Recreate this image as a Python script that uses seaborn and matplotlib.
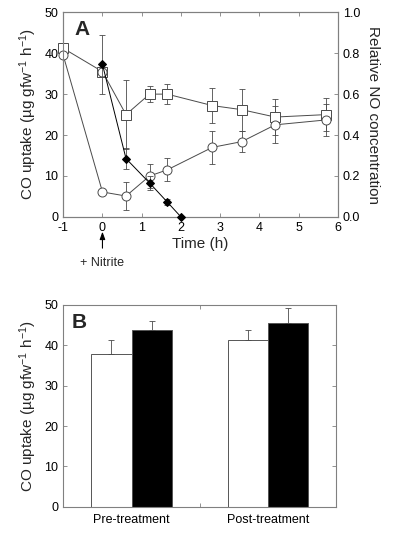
import numpy as np
import pandas as pd
import matplotlib
matplotlib.use("Agg")
import matplotlib.pyplot as plt
import seaborn as sns

sns.set_style("ticks")
plt.rcParams['font.family'] = ['Liberation Sans', 'DejaVu Sans']
plt.rcParams['mathtext.default'] = 'regular'
plt.rcParams['axes.unicode_minus'] = False

# =========================
# Panel A data
# =========================
time_sq = [-1, 0, 0.6, 1.2, 1.65, 2.8, 3.55, 4.4, 5.7]
co_sq = [41.2, 35.5, 25.0, 30.0, 30.0, 27.2, 26.2, 24.4, 25.0]
err_sq = [0, 0, 8.5, 2.0, 2.5, 4.2, 5.1, 4.3, 4.0]

time_ci = [-1, 0, 0.6, 1.2, 1.65, 2.8, 3.55, 4.4, 5.7]
co_ci = [39.5, 6.1, 5.1, 10.0, 11.5, 17.0, 18.4, 22.5, 23.7]
err_ci = [0, 0, 3.4, 3.0, 2.8, 4.0, 2.6, 4.5, 4.0]

# open circle sitting on the square at nitrite addition
time_ci_extra = [0]
co_ci_extra = [35.3]

time_no = [0, 0.6, 1.2, 1.65, 2.0]
no_rel = [0.745, 0.285, 0.166, 0.073, 0.0]
err_no = [0.145, 0.05, 0.035, 0.015, 0.0]

# =========================
# Panel B data
# =========================
phases = ['Pre-treatment', 'Post-treatment']
co_open = [37.8, 41.3]
err_open = [3.4, 2.4]
co_filled = [43.8, 45.6]
err_filled = [2.3, 3.6]

line_col = '#4a4a4a'
spine_col = '#808080'

fig = plt.figure(figsize=(4, 5.33), dpi=100)
axA = fig.add_axes([0.158, 0.593, 0.687, 0.384])
axB = fig.add_axes([0.158, 0.049, 0.683, 0.379])


def style_axes(ax):
    for s in ax.spines.values():
        s.set_color(spine_col)
        s.set_linewidth(0.8)
    ax.tick_params(direction='in', length=3, width=0.6, color=spine_col,
                   labelsize=9, labelcolor='black')


def unclip(ax):
    for art in ax.lines + ax.collections:
        art.set_clip_on(False)


# ---- Panel A ----
sns.lineplot(x=time_sq, y=co_sq, ax=axA, color=line_col, lw=0.7,
             marker='s', markersize=6.5, markerfacecolor='white',
             markeredgecolor=line_col, markeredgewidth=0.7, zorder=3)
axA.errorbar(time_sq, co_sq, yerr=err_sq, fmt='none', ecolor=line_col,
             elinewidth=0.6, capsize=2.5, capthick=0.6, zorder=2)

sns.lineplot(x=time_ci, y=co_ci, ax=axA, color=line_col, lw=0.7,
             marker='o', markersize=6.5, markerfacecolor='white',
             markeredgecolor=line_col, markeredgewidth=0.7, zorder=3)
axA.errorbar(time_ci, co_ci, yerr=err_ci, fmt='none', ecolor=line_col,
             elinewidth=0.6, capsize=2.5, capthick=0.6, zorder=2)
axA.plot(time_ci_extra, co_ci_extra, 'o', ms=6.5, mfc='none',
         mec=line_col, mew=0.7, zorder=4)

axA.set_xlim(-1, 6)
axA.set_ylim(0, 50)
axA.set_xticks(range(-1, 7))
axA.set_yticks(range(0, 51, 10))
axA.set_xlabel('Time (h)', fontsize=11, labelpad=2)
axA.set_ylabel('CO uptake (µg gfw$^{-1}$ h$^{-1}$)', fontsize=11, labelpad=4)
style_axes(axA)
axA.tick_params(top=True)
unclip(axA)

axA2 = axA.twinx()
sns.lineplot(x=time_no, y=no_rel, ax=axA2, color='black', lw=0.7,
             marker='D', markersize=4.5, markerfacecolor='black',
             markeredgecolor='black', zorder=3)
axA2.errorbar(time_no, no_rel, yerr=err_no, fmt='none', ecolor=line_col,
              elinewidth=0.6, capsize=2.5, capthick=0.6, zorder=2)
axA2.set_ylim(0, 1)
axA2.set_yticks(np.arange(0, 1.01, 0.2))
axA2.set_yticklabels([f'{v:.1f}' for v in np.arange(0, 1.01, 0.2)])
axA2.set_ylabel('Relative NO concentration', fontsize=11, rotation=270, labelpad=14)
style_axes(axA2)
unclip(axA2)

axA.text(0.04, 0.96, 'A', transform=axA.transAxes, fontsize=15,
         fontweight='bold', va='top', ha='left')
axA.annotate('+ Nitrite', xy=(0, -0.072), xycoords=('data', 'axes fraction'),
             xytext=(0, -0.225), textcoords=('data', 'axes fraction'),
             ha='center', va='center', fontsize=9,
             arrowprops=dict(arrowstyle='-|>,head_length=0.5,head_width=0.18',
                             color='black', lw=0.8, shrinkA=4, shrinkB=0))

# ---- Panel B ----
dfB = pd.DataFrame({
    'phase': phases * 2,
    'group': ['open'] * 2 + ['filled'] * 2,
    'co': co_open + co_filled,
})
sns.barplot(data=dfB, x='phase', y='co', hue='group', order=phases,
            hue_order=['open', 'filled'], palette={'open': 'white', 'filled': 'black'},
            width=0.59, errorbar=None, edgecolor='#555555', linewidth=0.7,
            legend=False, ax=axB)

errs = err_open + err_filled
vals = co_open + co_filled
for patch, v, e in zip(axB.patches, vals, errs):
    xc = patch.get_x() + patch.get_width() / 2
    axB.errorbar([xc], [v], yerr=[[0], [e]], fmt='none', ecolor=line_col,
                 elinewidth=0.6, capsize=2.5, capthick=0.6, zorder=1)

axB.set_xlim(-0.5, 1.5)
axB.set_ylim(0, 50)
axB.set_yticks(range(0, 51, 10))
axB.set_xlabel('')
axB.set_ylabel('CO uptake (µg gfw$^{-1}$ h$^{-1}$)', fontsize=11, labelpad=4)
style_axes(axB)
axB.tick_params(axis='x', which='major', length=0, pad=5)
axB.set_xticks([0.5], minor=True)
axB.tick_params(axis='x', which='minor', direction='in', length=3, width=0.6,
                color=spine_col, top=True, bottom=True)
axB.tick_params(axis='y', right=True)
axB.text(0.03, 0.96, 'B', transform=axB.transAxes, fontsize=15,
         fontweight='bold', va='top', ha='left')

fig.savefig('out.png', dpi=100)
